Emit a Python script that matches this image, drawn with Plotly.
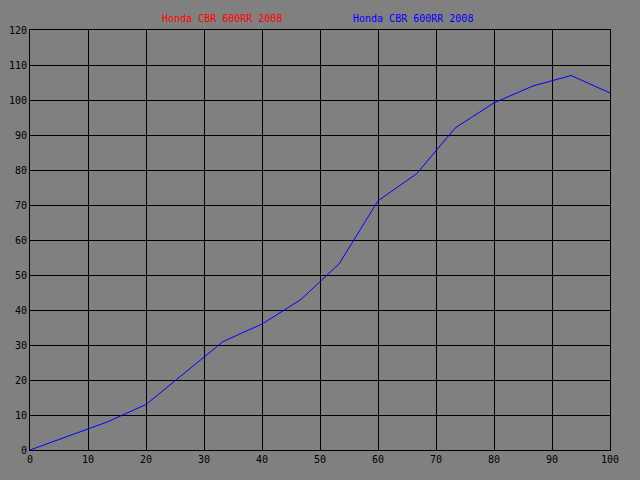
import plotly.graph_objects as go

series_name_red = "Honda CBR 600RR 2008"
series_name_blue = "Honda CBR 600RR 2008"

x_vals = [0, 6.67, 13.3, 20, 26.7, 33.3, 40, 46.7, 53.3, 60, 66.7, 73.3, 80, 86.7, 93.3, 100]
y_vals = [0, 4, 8, 13, 22, 31, 36, 43, 53.2, 71.2, 79, 92, 99.2, 104, 107, 102]

x_ticks = [0, 10, 20, 30, 40, 50, 60, 70, 80, 90, 100]
y_ticks = [0, 10, 20, 30, 40, 50, 60, 70, 80, 90, 100, 110, 120]

fig = go.Figure()
fig.add_trace(go.Scatter(x=[], y=[], mode="lines", name=series_name_red,
                         line=dict(color="#ff0000", width=1), showlegend=False))
fig.add_trace(go.Scatter(x=x_vals, y=y_vals, mode="lines", name=series_name_blue,
                         line=dict(color="#0000ff", width=1), showlegend=False))

font = dict(family="DejaVu Sans Mono", size=10, color="#000000")

fig.update_layout(
    width=640, height=480,
    paper_bgcolor="#808080", plot_bgcolor="#808080",
    margin=dict(l=30, r=30, t=30, b=30, pad=0, autoexpand=False),
    font=font,
    xaxis=dict(range=[0, 100], tickvals=x_ticks, showgrid=True, gridcolor="#000000",
               gridwidth=1, showline=True, linecolor="#000000", linewidth=1, mirror=True,
               zeroline=False, ticks="", tickfont=font, automargin=False),
    yaxis=dict(range=[0, 120], tickvals=y_ticks, showgrid=True, gridcolor="#000000",
               gridwidth=1, showline=True, linecolor="#000000", linewidth=1, mirror=True,
               zeroline=False, ticks="", tickfont=font, automargin=False),
    annotations=[
        dict(text=series_name_red, x=(160 - 30) / 580, y=(480 - 30 - 18) / 420, xref="paper", yref="paper",
             showarrow=False, xanchor="left", yanchor="middle",
             font=dict(family="DejaVu Sans Mono", size=10, color="#ff0000")),
        dict(text=series_name_blue, x=(351 - 30) / 580, y=(480 - 30 - 18) / 420, xref="paper", yref="paper",
             showarrow=False, xanchor="left", yanchor="middle",
             font=dict(family="DejaVu Sans Mono", size=10, color="#0000ff")),
    ],
)

fig.write_html(
    "out.html",
    config={"displayModeBar": False},
    post_script="document.body.style.margin='0';document.body.style.background='#808080';",
)
